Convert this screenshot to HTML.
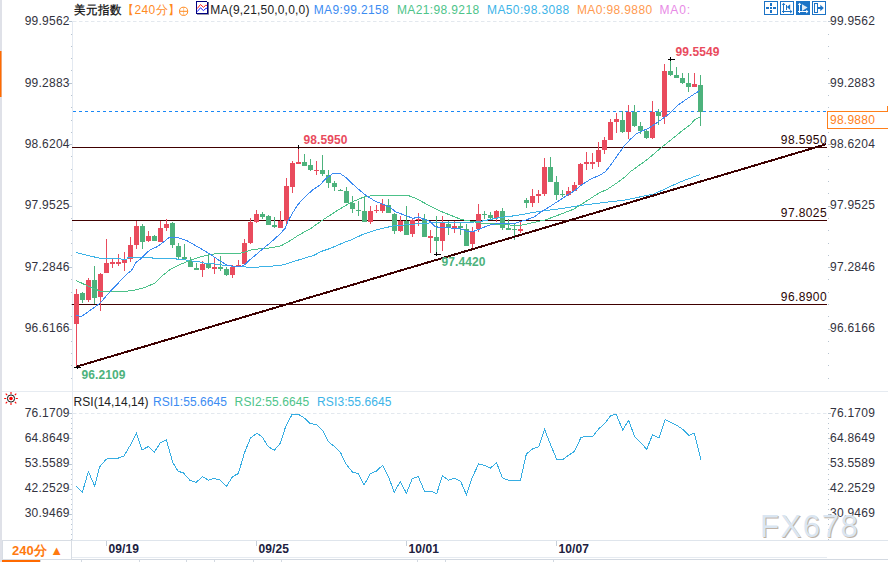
<!DOCTYPE html>
<html><head><meta charset="utf-8">
<style>
html,body{margin:0;padding:0;background:#fff;}
body{width:888px;height:562px;overflow:hidden;position:relative;}
svg{position:absolute;left:0;top:0;}
text{font-family:"Liberation Sans",sans-serif;font-size:12px;letter-spacing:0.4px;}
.ax{fill:#333340;letter-spacing:0.25px;}
.b{font-weight:bold;letter-spacing:0.08px;}
</style></head><body>
<svg width="888" height="562" viewBox="0 0 888 562">
<rect x="0" y="0" width="888" height="562" fill="#fff"/>
<!-- left strip -->
<rect x="0" y="0" width="2" height="562" fill="#dfe1e8"/>
<rect x="0" y="51" width="1.5" height="46" fill="#ff6a00"/>
<!-- axis lines -->
<rect x="72" y="21" width="1" height="519" fill="#e3e9f1"/>
<!-- separators -->
<rect x="2" y="391" width="886" height="1" fill="#e6ebf1"/>
<rect x="2" y="540" width="886" height="1" fill="#dfe5ec"/>
<rect x="72" y="557" width="755" height="1" fill="#e6ebf1"/>
<rect x="2" y="559" width="886" height="1" fill="#d3d9e1"/>
<rect x="2" y="560" width="38" height="2" fill="#ff6a00"/>
<g fill="#d3d9e1"><rect x="40" y="560" width="1" height="2"/><rect x="81" y="560" width="1" height="2"/><rect x="139" y="560" width="1" height="2"/><rect x="186" y="560" width="1" height="2"/><rect x="214" y="560" width="1" height="2"/><rect x="253" y="560" width="1" height="2"/><rect x="281" y="560" width="1" height="2"/><rect x="417" y="560" width="1" height="2"/><rect x="445" y="560" width="1" height="2"/><rect x="553" y="560" width="1" height="2"/></g>
<!-- dashed grid -->
<line x1="73" y1="21.5" x2="827" y2="21.5" stroke="#e3e8ee" stroke-width="1" stroke-dasharray="3.5,2.5"/>
<line x1="73" y1="413.5" x2="827" y2="413.5" stroke="#e3e8ee" stroke-width="1" stroke-dasharray="3.5,2.5"/>
<rect x="71" y="21" width="1" height="1" fill="#b8c4d0"/>
<rect x="828" y="21" width="1" height="1" fill="#b8c4d0"/>
<rect x="71" y="34" width="1" height="1" fill="#b8c4d0"/>
<rect x="828" y="34" width="1" height="1" fill="#b8c4d0"/>
<rect x="71" y="46" width="1" height="1" fill="#b8c4d0"/>
<rect x="828" y="46" width="1" height="1" fill="#b8c4d0"/>
<rect x="71" y="58" width="1" height="1" fill="#b8c4d0"/>
<rect x="828" y="58" width="1" height="1" fill="#b8c4d0"/>
<rect x="71" y="70" width="1" height="1" fill="#b8c4d0"/>
<rect x="828" y="70" width="1" height="1" fill="#b8c4d0"/>
<rect x="71" y="83" width="1" height="1" fill="#b8c4d0"/>
<rect x="828" y="83" width="1" height="1" fill="#b8c4d0"/>
<rect x="71" y="95" width="1" height="1" fill="#b8c4d0"/>
<rect x="828" y="95" width="1" height="1" fill="#b8c4d0"/>
<rect x="71" y="107" width="1" height="1" fill="#b8c4d0"/>
<rect x="828" y="107" width="1" height="1" fill="#b8c4d0"/>
<rect x="71" y="120" width="1" height="1" fill="#b8c4d0"/>
<rect x="828" y="120" width="1" height="1" fill="#b8c4d0"/>
<rect x="71" y="132" width="1" height="1" fill="#b8c4d0"/>
<rect x="828" y="132" width="1" height="1" fill="#b8c4d0"/>
<rect x="71" y="144" width="1" height="1" fill="#b8c4d0"/>
<rect x="828" y="144" width="1" height="1" fill="#b8c4d0"/>
<rect x="71" y="156" width="1" height="1" fill="#b8c4d0"/>
<rect x="828" y="156" width="1" height="1" fill="#b8c4d0"/>
<rect x="71" y="169" width="1" height="1" fill="#b8c4d0"/>
<rect x="828" y="169" width="1" height="1" fill="#b8c4d0"/>
<rect x="71" y="181" width="1" height="1" fill="#b8c4d0"/>
<rect x="828" y="181" width="1" height="1" fill="#b8c4d0"/>
<rect x="71" y="193" width="1" height="1" fill="#b8c4d0"/>
<rect x="828" y="193" width="1" height="1" fill="#b8c4d0"/>
<rect x="71" y="206" width="1" height="1" fill="#b8c4d0"/>
<rect x="828" y="206" width="1" height="1" fill="#b8c4d0"/>
<rect x="71" y="218" width="1" height="1" fill="#b8c4d0"/>
<rect x="828" y="218" width="1" height="1" fill="#b8c4d0"/>
<rect x="71" y="230" width="1" height="1" fill="#b8c4d0"/>
<rect x="828" y="230" width="1" height="1" fill="#b8c4d0"/>
<rect x="71" y="243" width="1" height="1" fill="#b8c4d0"/>
<rect x="828" y="243" width="1" height="1" fill="#b8c4d0"/>
<rect x="71" y="255" width="1" height="1" fill="#b8c4d0"/>
<rect x="828" y="255" width="1" height="1" fill="#b8c4d0"/>
<rect x="71" y="267" width="1" height="1" fill="#b8c4d0"/>
<rect x="828" y="267" width="1" height="1" fill="#b8c4d0"/>
<rect x="71" y="279" width="1" height="1" fill="#b8c4d0"/>
<rect x="828" y="279" width="1" height="1" fill="#b8c4d0"/>
<rect x="71" y="292" width="1" height="1" fill="#b8c4d0"/>
<rect x="828" y="292" width="1" height="1" fill="#b8c4d0"/>
<rect x="71" y="304" width="1" height="1" fill="#b8c4d0"/>
<rect x="828" y="304" width="1" height="1" fill="#b8c4d0"/>
<rect x="71" y="316" width="1" height="1" fill="#b8c4d0"/>
<rect x="828" y="316" width="1" height="1" fill="#b8c4d0"/>
<rect x="71" y="329" width="1" height="1" fill="#b8c4d0"/>
<rect x="828" y="329" width="1" height="1" fill="#b8c4d0"/>
<rect x="71" y="341" width="1" height="1" fill="#b8c4d0"/>
<rect x="828" y="341" width="1" height="1" fill="#b8c4d0"/>
<rect x="71" y="353" width="1" height="1" fill="#b8c4d0"/>
<rect x="828" y="353" width="1" height="1" fill="#b8c4d0"/>
<rect x="71" y="365" width="1" height="1" fill="#b8c4d0"/>
<rect x="828" y="365" width="1" height="1" fill="#b8c4d0"/>
<rect x="71" y="378" width="1" height="1" fill="#b8c4d0"/>
<rect x="828" y="378" width="1" height="1" fill="#b8c4d0"/>
<rect x="69" y="21" width="3" height="1" fill="#b8c4d0"/>
<rect x="828" y="21" width="3" height="1" fill="#b8c4d0"/>
<text x="69.8" y="25.1" text-anchor="end" class="ax">99.9562</text>
<text x="830" y="25.1" class="ax">99.9562</text>
<rect x="69" y="83" width="3" height="1" fill="#b8c4d0"/>
<rect x="828" y="83" width="3" height="1" fill="#b8c4d0"/>
<text x="69.8" y="86.55" text-anchor="end" class="ax">99.2883</text>
<text x="830" y="86.55" class="ax">99.2883</text>
<rect x="69" y="144" width="3" height="1" fill="#b8c4d0"/>
<rect x="828" y="144" width="3" height="1" fill="#b8c4d0"/>
<text x="69.8" y="148" text-anchor="end" class="ax">98.6204</text>
<text x="830" y="148" class="ax">98.6204</text>
<rect x="69" y="206" width="3" height="1" fill="#b8c4d0"/>
<rect x="828" y="206" width="3" height="1" fill="#b8c4d0"/>
<text x="69.8" y="209.45" text-anchor="end" class="ax">97.9525</text>
<text x="830" y="209.45" class="ax">97.9525</text>
<rect x="69" y="267" width="3" height="1" fill="#b8c4d0"/>
<rect x="828" y="267" width="3" height="1" fill="#b8c4d0"/>
<text x="69.8" y="270.9" text-anchor="end" class="ax">97.2846</text>
<text x="830" y="270.9" class="ax">97.2846</text>
<rect x="69" y="329" width="3" height="1" fill="#b8c4d0"/>
<rect x="828" y="329" width="3" height="1" fill="#b8c4d0"/>
<text x="69.8" y="332.4" text-anchor="end" class="ax">96.6166</text>
<text x="830" y="332.4" class="ax">96.6166</text>
<rect x="71" y="413" width="1" height="1" fill="#b8c4d0"/>
<rect x="828" y="413" width="1" height="1" fill="#b8c4d0"/>
<rect x="71" y="418" width="1" height="1" fill="#b8c4d0"/>
<rect x="828" y="418" width="1" height="1" fill="#b8c4d0"/>
<rect x="71" y="423" width="1" height="1" fill="#b8c4d0"/>
<rect x="828" y="423" width="1" height="1" fill="#b8c4d0"/>
<rect x="71" y="428" width="1" height="1" fill="#b8c4d0"/>
<rect x="828" y="428" width="1" height="1" fill="#b8c4d0"/>
<rect x="71" y="433" width="1" height="1" fill="#b8c4d0"/>
<rect x="828" y="433" width="1" height="1" fill="#b8c4d0"/>
<rect x="71" y="438" width="1" height="1" fill="#b8c4d0"/>
<rect x="828" y="438" width="1" height="1" fill="#b8c4d0"/>
<rect x="71" y="443" width="1" height="1" fill="#b8c4d0"/>
<rect x="828" y="443" width="1" height="1" fill="#b8c4d0"/>
<rect x="71" y="448" width="1" height="1" fill="#b8c4d0"/>
<rect x="828" y="448" width="1" height="1" fill="#b8c4d0"/>
<rect x="71" y="453" width="1" height="1" fill="#b8c4d0"/>
<rect x="828" y="453" width="1" height="1" fill="#b8c4d0"/>
<rect x="71" y="458" width="1" height="1" fill="#b8c4d0"/>
<rect x="828" y="458" width="1" height="1" fill="#b8c4d0"/>
<rect x="71" y="464" width="1" height="1" fill="#b8c4d0"/>
<rect x="828" y="464" width="1" height="1" fill="#b8c4d0"/>
<rect x="71" y="469" width="1" height="1" fill="#b8c4d0"/>
<rect x="828" y="469" width="1" height="1" fill="#b8c4d0"/>
<rect x="71" y="474" width="1" height="1" fill="#b8c4d0"/>
<rect x="828" y="474" width="1" height="1" fill="#b8c4d0"/>
<rect x="71" y="479" width="1" height="1" fill="#b8c4d0"/>
<rect x="828" y="479" width="1" height="1" fill="#b8c4d0"/>
<rect x="71" y="484" width="1" height="1" fill="#b8c4d0"/>
<rect x="828" y="484" width="1" height="1" fill="#b8c4d0"/>
<rect x="71" y="489" width="1" height="1" fill="#b8c4d0"/>
<rect x="828" y="489" width="1" height="1" fill="#b8c4d0"/>
<rect x="71" y="494" width="1" height="1" fill="#b8c4d0"/>
<rect x="828" y="494" width="1" height="1" fill="#b8c4d0"/>
<rect x="71" y="499" width="1" height="1" fill="#b8c4d0"/>
<rect x="828" y="499" width="1" height="1" fill="#b8c4d0"/>
<rect x="71" y="504" width="1" height="1" fill="#b8c4d0"/>
<rect x="828" y="504" width="1" height="1" fill="#b8c4d0"/>
<rect x="71" y="509" width="1" height="1" fill="#b8c4d0"/>
<rect x="828" y="509" width="1" height="1" fill="#b8c4d0"/>
<rect x="71" y="514" width="1" height="1" fill="#b8c4d0"/>
<rect x="828" y="514" width="1" height="1" fill="#b8c4d0"/>
<rect x="71" y="519" width="1" height="1" fill="#b8c4d0"/>
<rect x="828" y="519" width="1" height="1" fill="#b8c4d0"/>
<rect x="71" y="524" width="1" height="1" fill="#b8c4d0"/>
<rect x="828" y="524" width="1" height="1" fill="#b8c4d0"/>
<rect x="71" y="529" width="1" height="1" fill="#b8c4d0"/>
<rect x="828" y="529" width="1" height="1" fill="#b8c4d0"/>
<rect x="71" y="534" width="1" height="1" fill="#b8c4d0"/>
<rect x="828" y="534" width="1" height="1" fill="#b8c4d0"/>
<rect x="71" y="539" width="1" height="1" fill="#b8c4d0"/>
<rect x="828" y="539" width="1" height="1" fill="#b8c4d0"/>
<rect x="69" y="413" width="3" height="1" fill="#b8c4d0"/>
<rect x="828" y="413" width="3" height="1" fill="#b8c4d0"/>
<text x="69.8" y="417" text-anchor="end" class="ax">76.1709</text>
<text x="830" y="417" class="ax">76.1709</text>
<rect x="69" y="438" width="3" height="1" fill="#b8c4d0"/>
<rect x="828" y="438" width="3" height="1" fill="#b8c4d0"/>
<text x="69.8" y="442.1" text-anchor="end" class="ax">64.8649</text>
<text x="830" y="442.1" class="ax">64.8649</text>
<rect x="69" y="464" width="3" height="1" fill="#b8c4d0"/>
<rect x="828" y="464" width="3" height="1" fill="#b8c4d0"/>
<text x="69.8" y="467.1" text-anchor="end" class="ax">53.5589</text>
<text x="830" y="467.1" class="ax">53.5589</text>
<rect x="69" y="489" width="3" height="1" fill="#b8c4d0"/>
<rect x="828" y="489" width="3" height="1" fill="#b8c4d0"/>
<text x="69.8" y="492.15" text-anchor="end" class="ax">42.2529</text>
<text x="830" y="492.15" class="ax">42.2529</text>
<rect x="69" y="514" width="3" height="1" fill="#b8c4d0"/>
<rect x="828" y="514" width="3" height="1" fill="#b8c4d0"/>
<text x="69.8" y="517.2" text-anchor="end" class="ax">30.9469</text>
<text x="830" y="517.2" class="ax">30.9469</text>
<!-- horizontal levels -->
<g shape-rendering="crispEdges">
<rect x="72" y="147" width="755" height="1" fill="#400000"/>
<rect x="72" y="220" width="755" height="1" fill="#400000"/>
<rect x="72" y="304" width="755" height="1" fill="#400000"/>
</g>
<text x="827" y="144" text-anchor="end" fill="#2a0505">98.5950</text>
<text x="827" y="217" text-anchor="end" fill="#2a0505">97.8025</text>
<text x="827" y="301" text-anchor="end" fill="#2a0505">96.8900</text>
<!-- current price -->
<line x1="73" y1="111.5" x2="827" y2="111.5" stroke="#1a88f6" stroke-width="1" stroke-dasharray="3,3"/>
<rect x="827.5" y="111.5" width="70" height="17" fill="#fff" stroke="#ff7f1a" stroke-width="1"/>
<text x="830" y="124" fill="#ff7f1a" style="letter-spacing:0.25px">98.9880</text>
<rect x="887" y="106" width="1" height="5" fill="#ff7f1a"/>
<!-- candles -->
<g shape-rendering="crispEdges">
<rect x="76" y="289" width="1" height="78" fill="#e94b5d"/>
<rect x="74" y="294" width="5" height="29.7" fill="#e94b5d"/>
<rect x="82" y="292" width="1" height="10.7" fill="#4db27c"/>
<rect x="80" y="293" width="5" height="6.7" fill="#4db27c"/>
<rect x="88" y="278" width="1" height="24" fill="#e94b5d"/>
<rect x="86" y="280" width="5" height="19.7" fill="#e94b5d"/>
<rect x="94" y="266" width="1" height="38" fill="#4db27c"/>
<rect x="92" y="280" width="5" height="17.8" fill="#4db27c"/>
<rect x="100" y="273" width="1" height="38" fill="#e94b5d"/>
<rect x="98" y="273.8" width="5" height="23" fill="#e94b5d"/>
<rect x="106" y="239" width="1" height="33.9" fill="#e94b5d"/>
<rect x="104" y="263" width="5" height="9.9" fill="#e94b5d"/>
<rect x="112" y="258" width="1" height="10" fill="#e94b5d"/>
<rect x="110" y="261.9" width="5" height="2" fill="#e94b5d"/>
<rect x="118" y="254" width="1" height="11.7" fill="#e94b5d"/>
<rect x="116" y="262" width="5" height="2" fill="#e94b5d"/>
<rect x="124" y="252" width="1" height="18.6" fill="#e94b5d"/>
<rect x="122" y="259.8" width="5" height="3.2" fill="#e94b5d"/>
<rect x="130" y="237" width="1" height="24.6" fill="#e94b5d"/>
<rect x="128" y="245" width="5" height="14.4" fill="#e94b5d"/>
<rect x="136" y="220.5" width="1" height="28.2" fill="#e94b5d"/>
<rect x="134" y="226" width="5" height="18.7" fill="#e94b5d"/>
<rect x="142" y="224" width="1" height="24.7" fill="#4db27c"/>
<rect x="140" y="226" width="5" height="15.7" fill="#4db27c"/>
<rect x="148" y="231" width="1" height="11" fill="#e94b5d"/>
<rect x="146" y="236.1" width="5" height="4.5" fill="#e94b5d"/>
<rect x="154" y="235" width="1" height="6" fill="#4db27c"/>
<rect x="152" y="236" width="5" height="5" fill="#4db27c"/>
<rect x="160" y="220.5" width="1" height="21.2" fill="#e94b5d"/>
<rect x="158" y="228" width="5" height="13.7" fill="#e94b5d"/>
<rect x="166" y="219" width="1" height="11.8" fill="#e94b5d"/>
<rect x="164" y="224" width="5" height="3.6" fill="#e94b5d"/>
<rect x="172" y="222" width="1" height="25.9" fill="#4db27c"/>
<rect x="170" y="223.1" width="5" height="21.6" fill="#4db27c"/>
<rect x="178" y="243" width="1" height="16" fill="#4db27c"/>
<rect x="176" y="246" width="5" height="10.8" fill="#4db27c"/>
<rect x="184" y="244" width="1" height="15.9" fill="#4db27c"/>
<rect x="182" y="257.2" width="5" height="1.8" fill="#4db27c"/>
<rect x="190" y="257.2" width="1" height="9.4" fill="#4db27c"/>
<rect x="188" y="261.2" width="5" height="5.4" fill="#4db27c"/>
<rect x="196" y="262.6" width="1" height="7.2" fill="#4db27c"/>
<rect x="194" y="268.2" width="5" height="1.6" fill="#4db27c"/>
<rect x="202" y="261.2" width="1" height="15.5" fill="#e94b5d"/>
<rect x="200" y="263.9" width="5" height="5.6" fill="#e94b5d"/>
<rect x="208" y="254.5" width="1" height="14.1" fill="#4db27c"/>
<rect x="206" y="263.5" width="5" height="4" fill="#4db27c"/>
<rect x="214" y="257.6" width="1" height="16.2" fill="#e94b5d"/>
<rect x="212" y="267" width="5" height="1.9" fill="#e94b5d"/>
<rect x="220" y="256" width="1" height="14.7" fill="#4db27c"/>
<rect x="218" y="267.3" width="5" height="1.6" fill="#4db27c"/>
<rect x="226" y="267" width="1" height="8.6" fill="#4db27c"/>
<rect x="224" y="269.1" width="5" height="5.6" fill="#4db27c"/>
<rect x="232" y="265.3" width="1" height="12.3" fill="#e94b5d"/>
<rect x="230" y="266.6" width="5" height="8.1" fill="#e94b5d"/>
<rect x="238" y="260.1" width="1" height="6.5" fill="#e94b5d"/>
<rect x="236" y="265.3" width="5" height="1.3" fill="#e94b5d"/>
<rect x="244" y="239.2" width="1" height="25.8" fill="#e94b5d"/>
<rect x="242" y="243.2" width="5" height="21.2" fill="#e94b5d"/>
<rect x="250" y="218" width="1" height="25.5" fill="#e94b5d"/>
<rect x="248" y="222" width="5" height="20.8" fill="#e94b5d"/>
<rect x="256" y="209.9" width="1" height="13.1" fill="#e94b5d"/>
<rect x="254" y="214" width="5" height="7.6" fill="#e94b5d"/>
<rect x="262" y="211.9" width="1" height="7" fill="#4db27c"/>
<rect x="260" y="214.2" width="5" height="2.5" fill="#4db27c"/>
<rect x="268" y="215" width="1" height="9.8" fill="#4db27c"/>
<rect x="266" y="216" width="5" height="8.8" fill="#4db27c"/>
<rect x="274" y="216.9" width="1" height="11" fill="#4db27c"/>
<rect x="272" y="225.4" width="5" height="1.6" fill="#4db27c"/>
<rect x="280" y="211" width="1" height="16.7" fill="#e94b5d"/>
<rect x="278" y="220.5" width="5" height="7.2" fill="#e94b5d"/>
<rect x="286" y="178.3" width="1" height="46.5" fill="#e94b5d"/>
<rect x="284" y="186.1" width="5" height="34.4" fill="#e94b5d"/>
<rect x="292" y="161.2" width="1" height="31.4" fill="#e94b5d"/>
<rect x="290" y="163" width="5" height="23.8" fill="#e94b5d"/>
<rect x="298" y="146.5" width="1" height="17.4" fill="#e94b5d"/>
<rect x="296" y="162" width="5" height="1.9" fill="#e94b5d"/>
<rect x="304" y="154" width="1" height="11.7" fill="#4db27c"/>
<rect x="302" y="162" width="5" height="3.7" fill="#4db27c"/>
<rect x="310" y="158.9" width="1" height="11.9" fill="#4db27c"/>
<rect x="308" y="165.2" width="5" height="4.5" fill="#4db27c"/>
<rect x="316" y="160.9" width="1" height="13.8" fill="#e94b5d"/>
<rect x="314" y="169.9" width="5" height="1.2" fill="#e94b5d"/>
<rect x="322" y="154.9" width="1" height="20.7" fill="#4db27c"/>
<rect x="320" y="170.2" width="5" height="3.3" fill="#4db27c"/>
<rect x="328" y="170.2" width="1" height="17.3" fill="#4db27c"/>
<rect x="326" y="175.1" width="5" height="7.7" fill="#4db27c"/>
<rect x="334" y="181" width="1" height="9.8" fill="#4db27c"/>
<rect x="332" y="183.1" width="5" height="3.7" fill="#4db27c"/>
<rect x="340" y="189" width="1" height="1.8" fill="#4db27c"/>
<rect x="338" y="189.9" width="5" height="1" fill="#4db27c"/>
<rect x="346" y="187" width="1" height="15.5" fill="#4db27c"/>
<rect x="344" y="191" width="5" height="11.5" fill="#4db27c"/>
<rect x="352" y="196.1" width="1" height="16.9" fill="#4db27c"/>
<rect x="350" y="203.1" width="5" height="5.6" fill="#4db27c"/>
<rect x="358" y="201.3" width="1" height="14.4" fill="#4db27c"/>
<rect x="356" y="210" width="5" height="1" fill="#4db27c"/>
<rect x="364" y="197.4" width="1" height="24.1" fill="#4db27c"/>
<rect x="362" y="211.2" width="5" height="10.3" fill="#4db27c"/>
<rect x="370" y="206.2" width="1" height="17.6" fill="#e94b5d"/>
<rect x="368" y="211.2" width="5" height="10.3" fill="#e94b5d"/>
<rect x="376" y="205.1" width="1" height="7.9" fill="#e94b5d"/>
<rect x="374" y="210" width="5" height="1" fill="#e94b5d"/>
<rect x="382" y="199" width="1" height="14" fill="#e94b5d"/>
<rect x="380" y="204" width="5" height="6.7" fill="#e94b5d"/>
<rect x="388" y="199" width="1" height="13.7" fill="#4db27c"/>
<rect x="386" y="205.1" width="5" height="7.6" fill="#4db27c"/>
<rect x="394" y="213" width="1" height="21" fill="#4db27c"/>
<rect x="392" y="213.9" width="5" height="17.1" fill="#4db27c"/>
<rect x="400" y="216" width="1" height="15.9" fill="#e94b5d"/>
<rect x="398" y="220.6" width="5" height="10.4" fill="#e94b5d"/>
<rect x="406" y="206" width="1" height="28.6" fill="#4db27c"/>
<rect x="404" y="220.6" width="5" height="14" fill="#4db27c"/>
<rect x="412" y="218.6" width="1" height="18.2" fill="#e94b5d"/>
<rect x="410" y="219.7" width="5" height="14.3" fill="#e94b5d"/>
<rect x="418" y="213" width="1" height="12.9" fill="#e94b5d"/>
<rect x="416" y="219" width="5" height="1.2" fill="#e94b5d"/>
<rect x="424" y="213.9" width="1" height="22.6" fill="#4db27c"/>
<rect x="422" y="219.3" width="5" height="17.2" fill="#4db27c"/>
<rect x="430" y="230.2" width="1" height="22.5" fill="#e94b5d"/>
<rect x="428" y="236.1" width="5" height="1.5" fill="#e94b5d"/>
<rect x="436" y="216.3" width="1" height="36" fill="#4db27c"/>
<rect x="434" y="237" width="5" height="3.9" fill="#4db27c"/>
<rect x="442" y="216.3" width="1" height="34.5" fill="#e94b5d"/>
<rect x="440" y="223" width="5" height="17.9" fill="#e94b5d"/>
<rect x="448" y="221" width="1" height="13.7" fill="#4db27c"/>
<rect x="446" y="223.9" width="5" height="4.1" fill="#4db27c"/>
<rect x="454" y="221" width="1" height="11.9" fill="#e94b5d"/>
<rect x="452" y="226.2" width="5" height="1.5" fill="#e94b5d"/>
<rect x="460" y="222.8" width="1" height="11.9" fill="#4db27c"/>
<rect x="458" y="226.2" width="5" height="1.5" fill="#4db27c"/>
<rect x="466" y="224.1" width="1" height="21.6" fill="#4db27c"/>
<rect x="464" y="229.1" width="5" height="16.6" fill="#4db27c"/>
<rect x="472" y="227.1" width="1" height="20.7" fill="#e94b5d"/>
<rect x="470" y="230.7" width="5" height="13" fill="#e94b5d"/>
<rect x="478" y="204" width="1" height="27.8" fill="#e94b5d"/>
<rect x="476" y="214" width="5" height="14.9" fill="#e94b5d"/>
<rect x="484" y="211.1" width="1" height="8.3" fill="#4db27c"/>
<rect x="482" y="213.8" width="5" height="1" fill="#4db27c"/>
<rect x="490" y="212" width="1" height="7.2" fill="#4db27c"/>
<rect x="488" y="215.4" width="5" height="2.2" fill="#4db27c"/>
<rect x="496" y="210.2" width="1" height="11.5" fill="#e94b5d"/>
<rect x="494" y="211.1" width="5" height="6.5" fill="#e94b5d"/>
<rect x="502" y="208.2" width="1" height="21.6" fill="#4db27c"/>
<rect x="500" y="211.1" width="5" height="16.4" fill="#4db27c"/>
<rect x="508" y="219.2" width="1" height="10.3" fill="#4db27c"/>
<rect x="506" y="228.2" width="5" height="1.3" fill="#4db27c"/>
<rect x="514" y="223.5" width="1" height="16.2" fill="#4db27c"/>
<rect x="512" y="229" width="5" height="1" fill="#4db27c"/>
<rect x="520" y="221" width="1" height="11.5" fill="#e94b5d"/>
<rect x="518" y="228.9" width="5" height="1.8" fill="#e94b5d"/>
<rect x="526" y="198" width="1" height="9.9" fill="#4db27c"/>
<rect x="524" y="200.3" width="5" height="2.7" fill="#4db27c"/>
<rect x="532" y="189" width="1" height="17.8" fill="#e94b5d"/>
<rect x="530" y="196" width="5" height="7" fill="#e94b5d"/>
<rect x="538" y="189.9" width="1" height="13.1" fill="#e94b5d"/>
<rect x="536" y="194" width="5" height="1.8" fill="#e94b5d"/>
<rect x="544" y="158.1" width="1" height="37.7" fill="#e94b5d"/>
<rect x="542" y="167.1" width="5" height="26.9" fill="#e94b5d"/>
<rect x="550" y="157" width="1" height="24.6" fill="#4db27c"/>
<rect x="548" y="167.1" width="5" height="14.5" fill="#4db27c"/>
<rect x="556" y="176.1" width="1" height="23.7" fill="#4db27c"/>
<rect x="554" y="182" width="5" height="12.9" fill="#4db27c"/>
<rect x="562" y="190" width="1" height="6.7" fill="#4db27c"/>
<rect x="560" y="193.7" width="5" height="1.2" fill="#4db27c"/>
<rect x="568" y="187" width="1" height="8.8" fill="#e94b5d"/>
<rect x="566" y="191" width="5" height="4.1" fill="#e94b5d"/>
<rect x="574" y="182" width="1" height="8.8" fill="#e94b5d"/>
<rect x="572" y="185" width="5" height="5.8" fill="#e94b5d"/>
<rect x="580" y="163.2" width="1" height="21.3" fill="#e94b5d"/>
<rect x="578" y="164" width="5" height="20.5" fill="#e94b5d"/>
<rect x="586" y="152" width="1" height="17.6" fill="#e94b5d"/>
<rect x="584" y="162.3" width="5" height="1.5" fill="#e94b5d"/>
<rect x="592" y="153.2" width="1" height="15.5" fill="#e94b5d"/>
<rect x="590" y="162.3" width="5" height="1.5" fill="#e94b5d"/>
<rect x="598" y="142.2" width="1" height="24.6" fill="#e94b5d"/>
<rect x="596" y="150" width="5" height="11.7" fill="#e94b5d"/>
<rect x="604" y="137" width="1" height="16.9" fill="#e94b5d"/>
<rect x="602" y="140.1" width="5" height="9.5" fill="#e94b5d"/>
<rect x="610" y="119.1" width="1" height="20.5" fill="#e94b5d"/>
<rect x="608" y="122" width="5" height="17.6" fill="#e94b5d"/>
<rect x="616" y="113" width="1" height="19.8" fill="#e94b5d"/>
<rect x="614" y="119.1" width="5" height="2.7" fill="#e94b5d"/>
<rect x="622" y="111" width="1" height="21.7" fill="#4db27c"/>
<rect x="620" y="120.2" width="5" height="11.7" fill="#4db27c"/>
<rect x="628" y="105.1" width="1" height="33.6" fill="#e94b5d"/>
<rect x="626" y="112" width="5" height="19.9" fill="#e94b5d"/>
<rect x="634" y="105.1" width="1" height="21.9" fill="#4db27c"/>
<rect x="632" y="112" width="5" height="14.1" fill="#4db27c"/>
<rect x="640" y="122" width="1" height="11.7" fill="#4db27c"/>
<rect x="638" y="126.1" width="5" height="4.8" fill="#4db27c"/>
<rect x="646" y="130.1" width="1" height="8.9" fill="#4db27c"/>
<rect x="644" y="131" width="5" height="6.8" fill="#4db27c"/>
<rect x="652" y="101.1" width="1" height="37.9" fill="#e94b5d"/>
<rect x="650" y="112" width="5" height="25.8" fill="#e94b5d"/>
<rect x="658" y="109" width="1" height="15.7" fill="#4db27c"/>
<rect x="656" y="112" width="5" height="3.7" fill="#4db27c"/>
<rect x="664" y="63.9" width="1" height="59.8" fill="#e94b5d"/>
<rect x="662" y="71.1" width="5" height="45.4" fill="#e94b5d"/>
<rect x="670" y="59.4" width="1" height="16.5" fill="#4db27c"/>
<rect x="668" y="71.1" width="5" height="3.6" fill="#4db27c"/>
<rect x="676" y="66.8" width="1" height="10.9" fill="#4db27c"/>
<rect x="674" y="75.1" width="5" height="2.6" fill="#4db27c"/>
<rect x="682" y="72.9" width="1" height="11.1" fill="#4db27c"/>
<rect x="680" y="78.3" width="5" height="4.5" fill="#4db27c"/>
<rect x="688" y="72.9" width="1" height="18.8" fill="#4db27c"/>
<rect x="686" y="83.2" width="5" height="3.6" fill="#4db27c"/>
<rect x="694" y="72.9" width="1" height="13.9" fill="#e94b5d"/>
<rect x="692" y="84.1" width="5" height="2.7" fill="#e94b5d"/>
<rect x="700" y="75" width="1" height="50.9" fill="#4db27c"/>
<rect x="698" y="85.2" width="5" height="26.3" fill="#4db27c"/>
</g>
<!-- MAs -->
<g fill="none" stroke-width="1" stroke-linejoin="round" shape-rendering="crispEdges">
<polyline points="76,252.4 90,256 100,258.2 115,258.6 127,259.4 128,257.5 152,257.5 153,258.6 176,258.6 177,259.4 183,259.4 190,260.7 200,262 205,263.4 215,264 225,265.4 235,266.4 253,267.4 265,266.6 280,265.5 288,263.4 300,259.5 307,257.4 314,255.3 321.4,251.4 330,248.5 336,246 344,242.5 350,240.4 363.5,234.1 377,229.6 393,226 413,224.2 430,222.9 440,222.5 470,222.3 480,221.5 490,219.5 500,217.5 516,215.6 540,211.2 563,208.4 580,205.5 600,203 625,200 654,194 680,182 700,174.5" stroke="#3cb2e6"/>
<polyline points="76,280.5 90,287 100,291 105,291.5 125,291.5 135,290 145,287.5 155,283 162,276 170,269.7 180,264.5 190,260.5 200,257 210,254.5 220,253.4 240,253.4 245,252 253,249.4 264,248.6 271.5,247.7 280.5,246 287.7,242.3 298.6,235.1 310,229 322,220.5 335,212 350,202.8 364,197 373,195.5 408,195.5 415,198 422,201.7 430,206 440,211 450,215 461,219.4 470,221 480,223 490,223.5 500,224.5 520,225.5 545,220 560,214.5 574,209 585,202 599,193 607,189.5 617.8,182.4 625.6,176.4 629.5,172.3 648,159 662,147 672,139 680,132.5 690,125 695,119.5 700,117" stroke="#4cc189"/>
<polyline points="76.3,315.5 81.7,316.4 86.2,313.2 93.4,308 99.7,303.5 110.5,291.2 121,280.2 127.8,273.3 131.4,270.6 135.9,262.5 140.5,259 145,254.3 150,250 157,246.8 163.5,242 168.5,238 171.2,237.5 178.1,237.6 187.1,240.8 199.7,248 210.5,254.3 219.5,260.6 226.3,264.8 232.6,266.2 237.1,266.8 242,266.2 245,264.5 248,261.4 255,255.5 262,249.5 270,243 280,234 285,228.5 288.1,221 292.6,213 297.6,205 302,200 307,195 313.5,189.3 320,185 325.9,178.5 333,173.5 340,173.5 346,177.5 352,183.5 360,190.5 366,195.5 375,201 382,204 390,207 395,211.5 400,213.5 407,216 413,218.4 418.5,217 423,218.8 430,221.5 435,226.5 440,227.5 460,228.4 466,231 472,232 479,229.3 485,226.8 492,224.4 500,223.4 515,223.4 520,221.7 527,219.6 535,216.5 540,212.5 545,209.5 552,205.2 560,200 567.6,195 575,190.5 580,186 590,179.5 600,175 605,172 610,166 617,156 625,145 630.6,139 636,134.2 642.3,131 648.6,128.3 654,124.7 663,118.4 669.8,113.3 677.9,105.2 686.9,98.9 692.3,95.3 700,90.4" stroke="#3a8af2"/>
</g>
<!-- trendline -->
<line x1="76" y1="366.8" x2="826" y2="144.3" stroke="#3c0000" stroke-width="2" shape-rendering="crispEdges"/>
<!-- markers -->
<g stroke="#000" stroke-width="1" shape-rendering="crispEdges">
<path d="M74 367.5h7M77.5 365v4"/>
<path d="M668 59.5h7M670.5 57v4"/>
<path d="M434 254.5h7M436.5 252v4"/>
<path d="M298.5 145v4"/>
</g>
<text x="303.5" y="144" fill="#e94b5d" class="b">98.5950</text>
<text x="675.5" y="56" fill="#e94b5d" class="b">99.5549</text>
<text x="441.5" y="266" fill="#4db27c" class="b">97.4420</text>
<text x="81.5" y="379" fill="#4db27c" class="b">96.2109</text>
<!-- RSI -->
<polyline points="76.3,486.1 82.3,492.3 88.4,471.7 94.7,486.1 99.7,466.7 106,459.5 109.6,458 118.6,458 124,455.9 130.4,445 136.3,433.3 142,450 148.4,446.5 154.3,452.3 160,443.2 166.4,440 172.7,462.2 178.1,471.2 183.5,473 189.8,480.2 196.1,482.5 202.4,476.6 208.7,480.2 214.1,478.4 220.5,480.2 226.5,486.3 232.6,476.6 238.4,473.5 244.3,453.2 250.6,437.8 256.9,433.3 262.3,437 268.3,446.8 274.4,450.1 280.4,443.2 285.8,426.1 292.1,414.4 298.4,414.4 304.3,418 310.5,423.8 316.4,424.3 322.7,430.6 328.1,441.4 334.4,446.5 340.4,452.3 346.1,464 352.4,472.1 358.4,473.5 364.1,485 370.5,473.5 376.4,471.2 382.6,465.2 388.4,476.6 394.3,492.3 400.3,481.4 406.4,493.3 412.3,478.4 418.3,476.6 424.4,491 430.4,491 436.7,493.7 442.4,475.7 448.4,480.2 454.3,478.4 460.5,481.1 466.4,494.6 472.3,477.5 478.5,464 484.4,465.2 490.4,468.1 496.5,462.7 502.4,477.8 508.4,480.2 520.5,480.2 526.4,453.8 532.8,448.8 538.8,446.6 544.6,429.5 550.6,444.9 556.8,459.5 562.8,459.5 568.8,455.2 574.6,451.3 581,437.4 586.8,436.4 592.7,436.4 598.7,428.9 605.2,423.1 610.9,415.4 616.3,414.5 622.7,430 628.7,420.3 634.5,436.4 640.9,442.8 646.7,449.2 652.6,434.7 659.1,438.1 665.1,419.7 670.8,422.5 677.2,425.7 683,429.5 689,435.3 694.4,433.2 700.8,459.5" fill="none" stroke="#36ade2" stroke-width="1" shape-rendering="crispEdges"/>
<!-- header -->
<text x="74" y="14" fill="#111" stroke="#111" stroke-width="0.3" textLength="47.5" lengthAdjust="spacingAndGlyphs">美元指数</text>
<text x="122" y="14" fill="#ff8a1f">【240分】</text>
<g stroke="#ff8a1f" fill="none" stroke-width="1"><circle cx="183.6" cy="11.3" r="4.1"/><path d="M179.5 11.3h8.2"/><path d="M183.6 7.2v8.2" stroke-opacity="0.45"/></g>
<g shape-rendering="crispEdges"><rect x="196" y="1" width="12" height="13" fill="#fff"/><rect x="196" y="1" width="11" height="1" fill="#000080"/><rect x="196" y="1" width="1" height="13" fill="#000080"/><rect x="207" y="2" width="1" height="12" fill="#000080"/><rect x="208" y="2" width="1" height="12" fill="#6a6a8a"/><rect x="197" y="13" width="11" height="1" fill="#000080"/><rect x="197" y="14" width="12" height="1" fill="#9a9aaa"/></g><path d="M197.2 8.6L200.5 4.5L203.4 7.3L205.6 5.4H207" stroke="#ff2020" stroke-width="1" fill="none"/><path d="M197.2 11.7L200.5 7.8L203.4 10.6L206 8.3H207" stroke="#2020ff" stroke-width="1" fill="none"/>
<text x="210.3" y="14" fill="#222" textLength="99.5">MA(9,21,50,0,0,0)</text>
<text x="313.7" y="14" fill="#3c8cf2" textLength="75.5">MA9:99.2158</text>
<text x="397" y="14" fill="#4ec48a" textLength="82.5">MA21:98.9218</text>
<text x="487" y="14" fill="#3db4e8" textLength="82.7">MA50:98.3088</text>
<text x="577" y="14" fill="#ff9a50" textLength="75.5">MA0:98.9880</text>
<text x="659.5" y="14" fill="#e88ae6" textLength="31">MA0:</text>
<!-- toolbar -->
<g fill="none" stroke="#1b73c6" stroke-width="1" shape-rendering="crispEdges">
<rect x="764.5" y="1.5" width="13" height="13"/>
<rect x="780.5" y="1.5" width="13" height="13"/>
<rect x="812.5" y="1.5" width="13" height="13"/>
</g>
<rect x="796" y="1" width="14" height="14" fill="#1b73c6"/>
<g fill="#1b73c6" shape-rendering="crispEdges">
<rect x="766" y="7" width="3" height="2"/><rect x="770" y="7" width="2" height="2"/><rect x="773" y="7" width="3" height="2"/>
<rect x="770" y="3" width="2" height="3"/><rect x="770" y="10" width="2" height="3"/>
<rect x="783" y="4" width="1.3" height="9"/><path shape-rendering="auto" d="M781.8 5L783.6 2.8L785.4 5z"/><rect x="782" y="11" width="9" height="1.3"/><path shape-rendering="auto" d="M790.2 9.8L792.4 11.6L790.2 13.4z"/>
<rect x="786" y="4.5" width="1.2" height="5.2"/><path shape-rendering="auto" d="M786.8 7.1L790.2 4.3V9.9z"/>
<rect x="814.5" y="3.5" width="3" height="9" fill="none" stroke="#1b73c6"/>
<rect x="817" y="7" width="4" height="2"/><path shape-rendering="auto" d="M820.3 4.8L823.8 8L820.3 11.2z"/>
</g>
<g fill="#fff" shape-rendering="crispEdges">
<rect x="799" y="4" width="1.3" height="9"/><path shape-rendering="auto" d="M797.8 5L799.6 2.8L801.4 5z"/><rect x="798" y="11" width="9" height="1.3"/><path shape-rendering="auto" d="M806.2 9.8L808.4 11.6L806.2 13.4z"/>
</g>
<path d="M802 4.3V11L807.6 7.6z" fill="#fff" fill-opacity="0.85"/>
<!-- RSI header -->
<g transform="translate(11,398.5)">
<circle r="3.6" fill="none" stroke="#111" stroke-width="1"/><circle r="1.8" fill="#f00"/>
<g stroke="#f00" stroke-width="1.1"><path d="M-6.8 0h2M4.8 0h2M0 -6.6v2M0 4.6v2M-5.3 -4.9l1.5 1.5M5.3 -4.9l-1.5 1.5M-5.3 4.9l1.5 -1.5M5.3 4.9l-1.5 -1.5"/></g>
</g>
<text x="73.6" y="406" fill="#222" textLength="75.2">RSI(14,14,14)</text>
<text x="152.9" y="406" fill="#3c8cf2" textLength="74.5">RSI1:55.6645</text>
<text x="234.6" y="406" fill="#4ec48a" textLength="75">RSI2:55.6645</text>
<text x="317.1" y="406" fill="#3db4e8" textLength="74.8">RSI3:55.6645</text>
<!-- bottom -->
<rect x="2.5" y="540.5" width="69" height="19" fill="#fff" stroke="#d8dde4"/>
<text x="12" y="555" fill="#ff7a10" class="b" style="font-size:13px;letter-spacing:0">240分 ▲</text>
<g fill="#c8d0da"><rect x="106" y="541" width="1" height="5"/><rect x="256" y="541" width="1" height="5"/><rect x="406" y="541" width="1" height="5"/><rect x="556" y="541" width="1" height="5"/></g>
<text x="108.5" y="553" fill="#20203e" class="b">09/19</text>
<text x="258.5" y="553" fill="#20203e" class="b">09/25</text>
<text x="408.5" y="553" fill="#20203e" class="b">10/01</text>
<text x="558.5" y="553" fill="#20203e" class="b">10/07</text>
<!-- watermark -->
<text x="761" y="538" style="font-size:31px;letter-spacing:1.6px" fill="#b0a090" opacity="0.8">FX678</text>
<text x="760" y="537" style="font-size:31px;letter-spacing:1.6px" fill="#dae6f2">FX678</text>
</svg>
</body></html>
